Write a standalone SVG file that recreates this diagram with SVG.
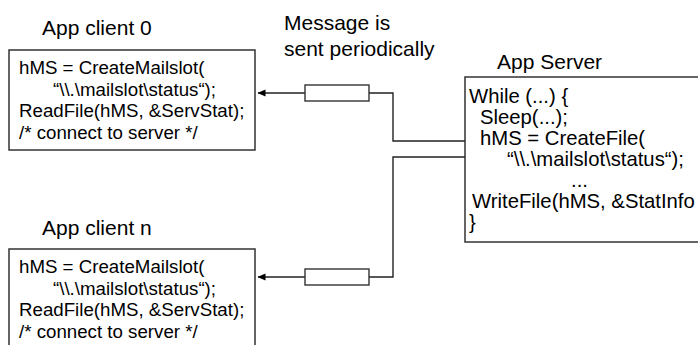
<svg xmlns="http://www.w3.org/2000/svg" width="698" height="345" viewBox="0 0 698 345">
<style>
.title{font-family:"Liberation Sans",Arial,sans-serif;font-size:21px;fill:#000}
.code{font-family:"Liberation Sans",Arial,sans-serif;font-size:18.7px;fill:#000}
.scode{font-family:"Liberation Sans",Arial,sans-serif;font-size:20.3px;fill:#000}
.box{fill:#fff;stroke:#333;stroke-width:1.5}
.conn{fill:none;stroke:#222;stroke-width:1.4}
.blk{fill:#fff;stroke:#333;stroke-width:1.4}
</style>
<defs>
<marker id="ah" viewBox="0 0 8 8" refX="7.5" refY="4" markerWidth="8" markerHeight="8" markerUnits="userSpaceOnUse" orient="auto">
<path d="M0,0.5 L8,4 L0,7.5 Z" fill="#000"/>
</marker>
</defs>
<g id="label-message">
<text class="title" x="284" y="30">Message is</text>
<text class="title" x="284" y="56">sent periodically</text>
</g>
<g id="client0">
<text class="title" x="42" y="35">App client 0</text>
<rect class="box" x="9" y="50" width="246" height="100"/>
<text class="code" x="19" y="74">hMS = CreateMailslot(</text>
<text class="code" x="53" y="95.5">“\\.\mailslot\status“);</text>
<text class="code" x="19" y="117">ReadFile(hMS, &amp;ServStat);</text>
<text class="code" x="19" y="138.5">/* connect to server */</text>
</g>
<g id="clientn">
<text class="title" x="42" y="235">App client n</text>
<rect class="box" x="9" y="249" width="246" height="110"/>
<text class="code" x="19" y="273">hMS = CreateMailslot(</text>
<text class="code" x="53" y="294.5">“\\.\mailslot\status“);</text>
<text class="code" x="19" y="316">ReadFile(hMS, &amp;ServStat);</text>
<text class="code" x="19" y="337.5">/* connect to server */</text>
</g>
<g id="server">
<text class="title" x="497" y="69">App Server</text>
<rect class="box" x="465" y="77" width="300" height="165"/>
<text class="scode" x="469" y="103">While (...) {</text>
<text class="scode" x="480" y="124">Sleep(...);</text>
<text class="scode" x="480" y="145">hMS = CreateFile(</text>
<text class="scode" x="507" y="166">“\\.\mailslot\status“);</text>
<text class="scode" x="571" y="187">...</text>
<text class="scode" x="472" y="208">WriteFile(hMS, &amp;StatInfo</text>
<text class="scode" x="469" y="229">}</text>
</g>
<g id="connectors">
<path class="conn" d="M465,141 H393 V93 H369"/>
<path class="conn" d="M305,93 H258" marker-end="url(#ah)"/>
<rect class="blk" x="305" y="85" width="64" height="16"/>
<path class="conn" d="M465,157 H393 V277 H369"/>
<path class="conn" d="M305,277 H258" marker-end="url(#ah)"/>
<rect class="blk" x="305" y="269" width="64" height="16"/>
</g>
</svg>
